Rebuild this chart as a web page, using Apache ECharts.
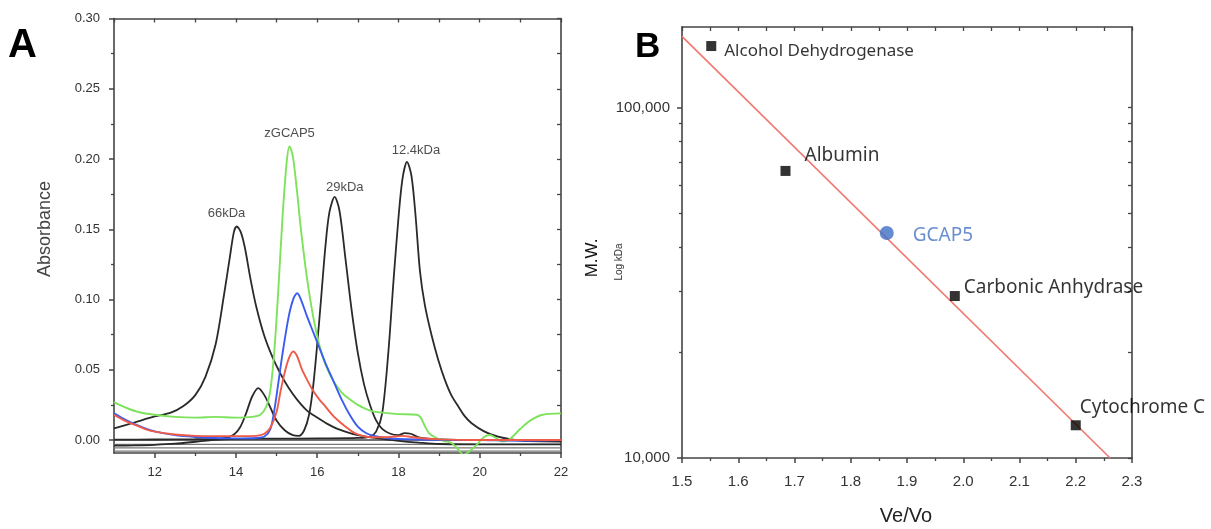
<!DOCTYPE html>
<html><head><meta charset="utf-8">
<script src="https://cdn.jsdelivr.net/npm/echarts@6/dist/echarts.min.js"></script>
<style>html,body{margin:0;padding:0;background:#fff}#c{width:1211px;height:529px}</style>
</head><body><div id="c"></div>
<script>
// ---------- Panel A : elution profiles ----------
const aXTicks = [12, 14, 16, 18, 20, 22];
const aXMinor = [13, 15, 17, 19, 21];
const aXAll = [11, 12, 13, 14, 15, 16, 17, 18, 19, 20, 21, 22];
const aYTicks = [0, 0.05, 0.10, 0.15, 0.20, 0.25, 0.30];
const aYMinor = [0.025, 0.075, 0.125, 0.175, 0.225, 0.275];
const aYAll = [0, 0.025, 0.05, 0.075, 0.10, 0.125, 0.15, 0.175, 0.20, 0.225, 0.25, 0.275, 0.30];

const peakLabels = ['66kDa', 'zGCAP5', '29kDa', '12.4kDa'];
const peakLabelX = [13.77, 15.32, 16.68, 18.43];
const peakLabelY = [0.161, 0.218, 0.180, 0.206];

const baselineLevels = [0, -0.003, -0.0055, -0.0078];

const trace66 = [[11,0.0083],[11.5,0.0125],[12,0.0168],[12.4,0.0195],[12.7,0.024],[13,0.032],[13.25,0.045],[13.5,0.068],[13.7,0.102],[13.85,0.13],[13.95,0.148],[14.02,0.152],[14.12,0.148],[14.22,0.137],[14.35,0.116],[14.5,0.095],[14.7,0.074],[14.9,0.059],[15.1,0.047],[15.3,0.037],[15.5,0.029],[15.75,0.021],[16,0.016],[16.25,0.0115],[16.5,0.008],[17,0.0035],[17.5,0.0012],[18,-0.0005],[18.5,-0.0018],[19,-0.0028],[20,-0.003],[22,-0.003]];
const trace29 = [[11,0.0003],[12,0.0004],[13,0.0006],[13.6,0.001],[13.9,0.003],[14.1,0.009],[14.25,0.019],[14.4,0.031],[14.55,0.037],[14.7,0.032],[14.85,0.023],[15,0.014],[15.2,0.007],[15.4,0.0035],[15.55,0.003],[15.68,0.007],[15.8,0.018],[15.9,0.038],[16,0.068],[16.1,0.102],[16.2,0.137],[16.3,0.162],[16.43,0.173],[16.55,0.163],[16.7,0.128],[16.85,0.092],[17,0.062],[17.15,0.04],[17.3,0.025],[17.45,0.014],[17.6,0.008],[17.8,0.0045],[18,0.0035],[18.15,0.005],[18.3,0.0045],[18.5,0.002],[19,0.0005],[20,0],[22,0]];
const trace12 = [[11,-0.004],[11.5,-0.0038],[12,-0.0034],[12.5,-0.0026],[13,-0.0012],[13.4,0],[14,0.0008],[15,0.001],[16,0.0012],[17,0.0015],[17.3,0.0025],[17.45,0.006],[17.6,0.019],[17.75,0.062],[17.88,0.114],[18,0.158],[18.1,0.186],[18.21,0.198],[18.32,0.188],[18.42,0.16],[18.53,0.12],[18.65,0.096],[18.82,0.074],[18.98,0.057],[19.14,0.043],[19.3,0.032],[19.47,0.024],[19.63,0.017],[19.8,0.012],[20.12,0.006],[20.45,0.0024],[20.78,0.0005],[21.2,-0.0008],[22,-0.001]];
const traceGreen = [[11,0.027],[11.3,0.023],[11.6,0.020],[12,0.018],[12.5,0.0165],[13,0.016],[13.5,0.0165],[14,0.016],[14.4,0.0165],[14.6,0.018],[14.75,0.024],[14.85,0.036],[14.95,0.065],[15.05,0.11],[15.15,0.16],[15.25,0.198],[15.32,0.209],[15.4,0.202],[15.5,0.178],[15.6,0.15],[15.75,0.115],[15.9,0.088],[16.05,0.068],[16.2,0.054],[16.4,0.042],[16.6,0.034],[16.8,0.029],[17,0.025],[17.3,0.021],[17.6,0.0195],[18,0.0185],[18.45,0.018],[18.55,0.016],[18.65,0.010],[18.75,0.005],[18.9,0.002],[19.1,-0.0005],[19.3,-0.002],[19.45,-0.006],[19.6,-0.0105],[19.75,-0.008],[19.9,-0.004],[20.1,0.002],[20.25,0.0036],[20.4,0.0015],[20.55,-0.001],[20.75,0.001],[21,0.008],[21.25,0.014],[21.55,0.018],[22,0.019]];
const traceBlue = [[11,0.019],[11.25,0.015],[11.5,0.0115],[11.75,0.0085],[12,0.0062],[12.5,0.0035],[13,0.0022],[13.5,0.0015],[14,0.0012],[14.5,0.0015],[14.7,0.0025],[14.85,0.008],[14.95,0.022],[15.05,0.042],[15.15,0.062],[15.3,0.088],[15.42,0.101],[15.51,0.1045],[15.6,0.1],[15.75,0.088],[15.9,0.077],[16.05,0.066],[16.2,0.055],[16.4,0.042],[16.6,0.029],[16.8,0.018],[17,0.0095],[17.2,0.005],[17.4,0.003],[17.7,0.0015],[18,0.0008],[19,0.0002],[20,0],[21,-0.0005],[22,0]];
const traceRed = [[11,0.018],[11.25,0.014],[11.5,0.011],[11.75,0.008],[12,0.006],[12.5,0.004],[13,0.003],[13.5,0.0028],[14,0.0028],[14.5,0.003],[14.7,0.0045],[14.85,0.009],[15,0.02],[15.1,0.035],[15.2,0.048],[15.3,0.058],[15.41,0.063],[15.5,0.06],[15.63,0.05],[15.75,0.043],[15.88,0.036],[16.05,0.029],[16.2,0.024],[16.4,0.017],[16.55,0.013],[16.7,0.0095],[16.86,0.006],[17,0.004],[17.2,0.0024],[17.5,0.002],[17.8,0.0022],[18.1,0.003],[18.4,0.0018],[19,0.0005],[20,0],[21,0],[22,0]];

// ---------- Panel B : calibration ----------
const bXTicks = [1.5, 1.6, 1.7, 1.8, 1.9, 2.0, 2.1, 2.2, 2.3];
const bXMinor = [1.55, 1.65, 1.75, 1.85, 1.95, 2.05, 2.15, 2.25];
const bXAll = [1.5, 1.55, 1.6, 1.65, 1.7, 1.75, 1.8, 1.85, 1.9, 1.95, 2.0, 2.05, 2.1, 2.15, 2.2, 2.25, 2.3];
const bYTicks = [10000, 100000];
const bYMinor = [20000, 30000, 40000, 50000, 60000, 70000, 80000, 90000];
const bYAll = [10000, 20000, 30000, 40000, 50000, 60000, 70000, 80000, 90000, 100000];

const standardNames = ['Alcohol Dehydrogenase', 'Albumin', 'Carbonic Anhydrase', 'Cytochrome C'];
const standardVeVo = [1.552, 1.684, 1.985, 2.200];
const standardMW = [150000, 66000, 29000, 12400];
const sampleName = 'GCAP5';
const sampleVeVo = 1.864;
const sampleMW = 43900;
const fitVeVo = [1.5, 2.261];
const fitMW = [159800, 10000];

const F = '"Liberation Sans", Arial, sans-serif';
const FB = '"Noto Sans", sans-serif';
const AX = '#444';

function trace(data, color, width, z) {
  return {type: 'line', xAxisIndex: 0, yAxisIndex: 0, data: data, showSymbol: false, symbol: 'none',
    smooth: 0.3, clip: true, lineStyle: {color: color, width: width}, z: z, silent: true};
}

const series = [];
baselineLevels.forEach((v, i) => {
  series.push(trace([[11, v], [22, v]], i === 0 ? '#444' : '#777', i === 0 ? 1.5 : 1.3, 1));
});
series.push(trace(trace66, '#2a2a2a', 1.8, 2));
series.push(trace(trace29, '#2a2a2a', 1.8, 2));
series.push(trace(trace12, '#2a2a2a', 1.8, 2));
series.push(trace(traceGreen, '#7ee25c', 1.9, 3));
series.push(trace(traceBlue, '#3b5cf0', 1.9, 4));
series.push(trace(traceRed, '#ef5a4a', 1.9, 5));
series.push({
  type: 'scatter', xAxisIndex: 0, yAxisIndex: 0, symbolSize: 0, silent: true, z: 10,
  data: peakLabels.map((n, i) => ({name: n, value: [peakLabelX[i], peakLabelY[i]]})),
  label: {show: true, position: 'inside', formatter: p => p.name, color: '#222', fontSize: 13, fontFamily: F}
});

// Panel B series
series.push({
  type: 'line', xAxisIndex: 3, yAxisIndex: 3, showSymbol: false, symbol: 'none', silent: true, z: 2,
  data: fitVeVo.map((x, i) => [x, fitMW[i]]),
  lineStyle: {color: '#f07a72', width: 1.7}
});
const stdOffsets = [[3, 5], [9, -15], [-1, -8], [-6, -18]];
const stdSizes = [17, 19, 19, 19];
series.push({
  type: 'scatter', xAxisIndex: 3, yAxisIndex: 3, symbol: 'rect', symbolSize: 10, silent: true, z: 5,
  itemStyle: {color: '#000'},
  data: standardNames.map((n, i) => ({
    name: n, value: [standardVeVo[i], standardMW[i]],
    label: {show: true, position: 'right', offset: stdOffsets[i], formatter: n, color: '#000', fontSize: stdSizes[i], fontFamily: FB}
  }))
});
series.push({
  type: 'scatter', xAxisIndex: 3, yAxisIndex: 3, symbol: 'circle', symbolSize: 14, silent: true, z: 6,
  itemStyle: {color: '#3f6fc6'},
  data: [{name: sampleName, value: [sampleVeVo, sampleMW],
    label: {show: true, position: 'right', offset: [14, 3], formatter: sampleName, color: '#4472c4', fontSize: 19, fontFamily: FB}}]
});

function lineStyle(w) { return {color: AX, width: w}; }

const option = {
  animation: false,
  backgroundColor: '#fff',
  grid: [
    {left: 114, right: 650, top: 18.5, bottom: 76, outerBoundsMode: 'none'},
    {left: 682, right: 79, top: 27, bottom: 71, outerBoundsMode: 'none'}
  ],
  xAxis: [
    {gridIndex: 0, type: 'value', min: 11, max: 22, position: 'bottom',
      axisLine: {onZero: false, lineStyle: lineStyle(1.6)},
      axisTick: {customValues: aXTicks, length: 5, lineStyle: lineStyle(1.5)},
      axisLabel: {customValues: aXTicks, margin: 13, color: '#333', fontSize: 13, fontFamily: F},
      splitLine: {show: false}},
    {gridIndex: 0, type: 'value', min: 11, max: 22, position: 'bottom',
      axisLine: {show: false, onZero: false},
      axisTick: {customValues: aXMinor, length: 3, lineStyle: lineStyle(1.3)},
      axisLabel: {show: false}, splitLine: {show: false}},
    {gridIndex: 0, type: 'value', min: 11, max: 22, position: 'top',
      axisLine: {onZero: false, lineStyle: lineStyle(1.6)},
      axisTick: {customValues: aXAll, inside: true, length: 4, lineStyle: lineStyle(1.3)},
      axisLabel: {show: false}, splitLine: {show: false}},
    {gridIndex: 1, type: 'value', min: 1.5, max: 2.3, position: 'bottom',
      axisLine: {onZero: false, lineStyle: lineStyle(1.6)},
      axisTick: {customValues: bXTicks, length: 5, lineStyle: lineStyle(1.5)},
      axisLabel: {customValues: bXTicks, margin: 16, color: '#333', fontSize: 15, fontFamily: F,
        formatter: v => v.toFixed(1)},
      splitLine: {show: false}},
    {gridIndex: 1, type: 'value', min: 1.5, max: 2.3, position: 'bottom',
      axisLine: {show: false, onZero: false},
      axisTick: {customValues: bXMinor, length: 3, lineStyle: lineStyle(1.3)},
      axisLabel: {show: false}, splitLine: {show: false}},
    {gridIndex: 1, type: 'value', min: 1.5, max: 2.3, position: 'top',
      axisLine: {onZero: false, lineStyle: lineStyle(1.6)},
      axisTick: {customValues: bXAll, inside: true, length: 4, lineStyle: lineStyle(1.3)},
      axisLabel: {show: false}, splitLine: {show: false}}
  ],
  yAxis: [
    {gridIndex: 0, type: 'value', min: -0.0092, max: 0.30, position: 'left',
      axisLine: {onZero: false, lineStyle: lineStyle(1.6)},
      axisTick: {customValues: aYTicks, length: 5, lineStyle: lineStyle(1.5)},
      axisLabel: {customValues: aYTicks, margin: 14, color: '#333', fontSize: 13, fontFamily: F,
        formatter: v => v.toFixed(2)},
      splitLine: {show: false}},
    {gridIndex: 0, type: 'value', min: -0.0092, max: 0.30, position: 'left',
      axisLine: {show: false, onZero: false},
      axisTick: {customValues: aYMinor, length: 3, lineStyle: lineStyle(1.3)},
      axisLabel: {show: false}, splitLine: {show: false}},
    {gridIndex: 0, type: 'value', min: -0.0092, max: 0.30, position: 'right',
      axisLine: {onZero: false, lineStyle: lineStyle(1.6)},
      axisTick: {customValues: aYAll, inside: true, length: 4, lineStyle: lineStyle(1.3)},
      axisLabel: {show: false}, splitLine: {show: false}},
    {gridIndex: 1, type: 'log', logBase: 10, min: 10000, max: 170000, position: 'left',
      axisLine: {onZero: false, lineStyle: lineStyle(1.6)},
      axisTick: {customValues: bYTicks, length: 5, lineStyle: lineStyle(1.5)},
      axisLabel: {customValues: bYTicks, margin: 12, color: '#333', fontSize: 15, fontFamily: F,
        formatter: v => Math.round(v).toLocaleString('en-US')},
      splitLine: {show: false}},
    {gridIndex: 1, type: 'log', logBase: 10, min: 10000, max: 170000, position: 'left',
      axisLine: {show: false, onZero: false},
      axisTick: {customValues: bYMinor, length: 3, lineStyle: lineStyle(1.3)},
      axisLabel: {show: false}, splitLine: {show: false}},
    {gridIndex: 1, type: 'log', logBase: 10, min: 10000, max: 170000, position: 'right',
      axisLine: {onZero: false, lineStyle: lineStyle(1.6)},
      axisTick: {customValues: bYAll, inside: true, length: 4, lineStyle: lineStyle(1.3)},
      axisLabel: {show: false}, splitLine: {show: false}}
  ],
  graphic: [
    {type: 'text', x: 8, y: 46, style: {text: 'A', font: 'bold 40px "Liberation Sans", Arial', fill: '#000', textAlign: 'left', textVerticalAlign: 'middle'}},
    {type: 'text', x: 635, y: 47.5, style: {text: 'B', font: 'bold 35px "Liberation Sans", Arial', fill: '#000', textAlign: 'left', textVerticalAlign: 'middle'}},
    {type: 'text', x: 45, y: 229, rotation: Math.PI / 2, style: {text: 'Absorbance', font: '18px "Liberation Sans", Arial', fill: '#444', textAlign: 'center', textVerticalAlign: 'middle'}},
    {type: 'text', x: 592, y: 258, rotation: Math.PI / 2, style: {text: 'M.W.', font: '17px "Liberation Sans", Arial', fill: '#111', textAlign: 'center', textVerticalAlign: 'middle'}},
    {type: 'text', x: 619, y: 262, rotation: Math.PI / 2, style: {text: 'Log kDa', font: '10px "Liberation Sans", Arial', fill: '#333', textAlign: 'center', textVerticalAlign: 'middle'}},
    {type: 'text', x: 906, y: 516, style: {text: 'Ve/Vo', font: '20px "Liberation Sans", Arial', fill: '#222', textAlign: 'center', textVerticalAlign: 'middle'}}
  ],
  series: series
};

const chart = echarts.init(document.getElementById('c'));
chart.setOption(option);
</script>
</body></html>
